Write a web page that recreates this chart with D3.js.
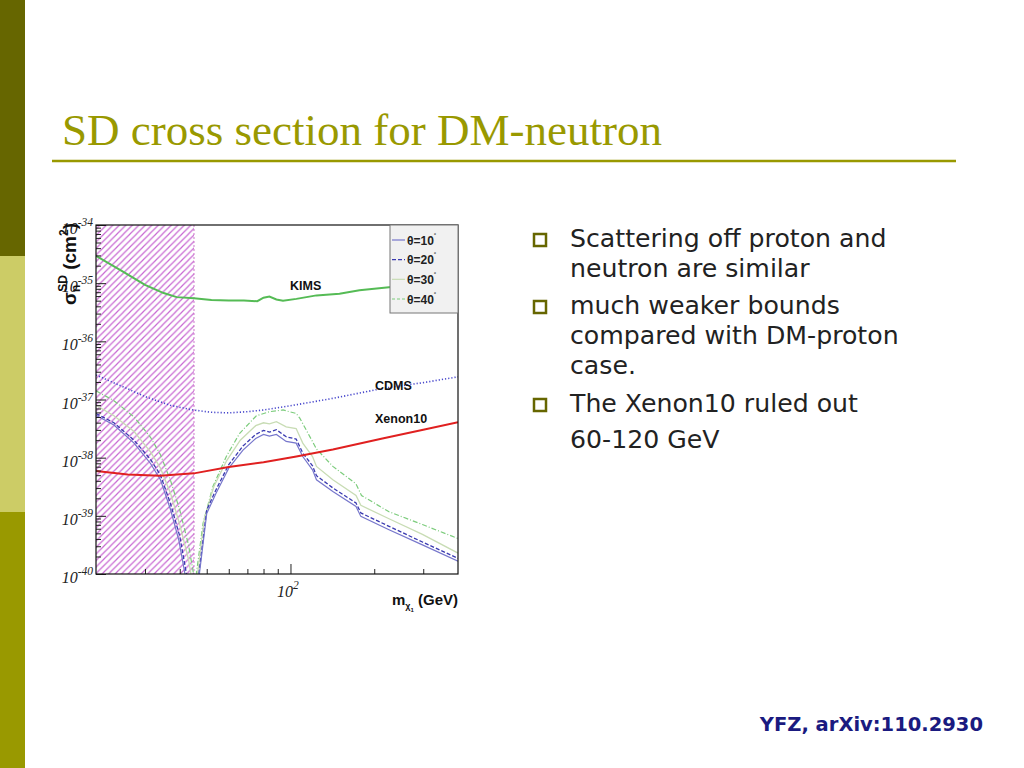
<!DOCTYPE html>
<html>
<head>
<meta charset="utf-8">
<script src="https://cdn.jsdelivr.net/npm/d3@7"></script>
<style>
  html, body { margin: 0; padding: 0; background: #fff; }
  svg { display: block; }
</style>
</head>
<body>
<svg id="slide" width="1024" height="768"></svg>
<script>
"use strict";

// points are [mass in GeV, log10 of sigma in cm^2]
const kims = [[20,-34.53],[25,-34.80],[30,-35.03],[35,-35.17],[39,-35.24],[45,-35.26],[52,-35.29],[60,-35.30],[68,-35.30],[76,-35.31],[80,-35.25],[84,-35.23],[89,-35.28],[94,-35.30],[105,-35.27],[124,-35.21],[150,-35.18],[177,-35.12],[226,-35.07],[300,-35.03],[400,-34.98]];
const cdms = [[20,-36.58],[25,-36.78],[30,-36.95],[37,-37.10],[44.6,-37.18],[52,-37.22],[60,-37.23],[70,-37.21],[80,-37.18],[105,-37.09],[142,-36.98],[214,-36.81],[300,-36.71],[400,-36.61]];
const xenon10 = [[20,-38.23],[26,-38.29],[34,-38.31],[45,-38.27],[60,-38.16],[80,-38.08],[105,-37.98],[142,-37.86],[214,-37.67],[300,-37.52],[400,-37.39]];

const theta10Low = [[20,-37.27],[23.2,-37.44],[27.4,-37.75],[31.4,-38.10],[34.1,-38.38],[37.1,-38.90],[39.7,-39.42],[42.5,-40.2]];
const theta20Low = [[20,-37.24],[23.2,-37.40],[27.4,-37.70],[31.4,-38.03],[34.1,-38.30],[37.1,-38.80],[40,-39.35],[43,-40.2]];
const theta30Low = [[20,-37.10],[23.2,-37.28],[27.4,-37.55],[31.4,-37.90],[34.1,-38.18],[37.1,-38.62],[40,-39.15],[43,-39.75],[44.6,-40.2]];
const theta40Low = [[20,-36.85],[23.2,-37.02],[27.4,-37.30],[31.4,-37.65],[34.1,-37.95],[37.1,-38.40],[40,-38.90],[43,-39.50],[45.6,-40.2]];

const theta10High = [[46.5,-40.2],[50,-38.96],[54,-38.61],[60,-38.18],[67.5,-37.87],[75,-37.67],[80,-37.60],[84,-37.63],[89,-37.60],[96.5,-37.72],[104.8,-37.75],[110.7,-37.98],[120,-38.21],[124,-38.38],[142,-38.58],[172,-38.84],[179,-39.01],[226,-39.24],[298,-39.50],[400,-39.78]];
const theta20High = [[46.3,-40.2],[50,-38.90],[54,-38.55],[60,-38.12],[67.5,-37.80],[75,-37.60],[80,-37.53],[84,-37.56],[89,-37.52],[96.5,-37.64],[104.8,-37.68],[110.7,-37.92],[120,-38.14],[124,-38.31],[142,-38.52],[172,-38.78],[179,-38.95],[226,-39.18],[298,-39.45],[400,-39.73]];
const theta30High = [[45.8,-40.2],[49,-39.05],[53,-38.50],[59,-38.05],[66,-37.70],[75,-37.45],[80,-37.40],[84,-37.42],[89,-37.38],[96.5,-37.47],[104.8,-37.50],[110.7,-37.75],[120,-37.98],[124,-38.15],[142,-38.38],[172,-38.65],[179,-38.82],[226,-39.05],[298,-39.32],[400,-39.64]];
const theta40High = [[45.3,-40.2],[48.5,-39.13],[52.6,-38.50],[58.8,-37.98],[65.7,-37.58],[75.4,-37.28],[84,-37.21],[94,-37.18],[104.8,-37.24],[108,-37.32],[124,-37.85],[142,-38.15],[172,-38.45],[180,-38.65],[226,-38.93],[298,-39.15],[400,-39.39]];

const excludedMass = 45;
const yDecades = [-40, -39, -38, -37, -36, -35, -34];
const xMinorTicks = [30, 40, 50, 60, 70, 80, 90, 200, 300];
const legendLabels = ["10", "20", "30", "40"];

const bullets = [
  ["Scattering off proton and", "neutron are similar"],
  ["much weaker bounds", "compared with DM-proton", "case."],
  ["The Xenon10 ruled out", "60-120 GeV"]
];

const svg = d3.select("#slide");

// side bar
svg.append("rect").attr("x", 0).attr("y", 0).attr("width", 25).attr("height", 256).attr("fill", "#666600");
svg.append("rect").attr("x", 0).attr("y", 256).attr("width", 25).attr("height", 256).attr("fill", "#cccc66");
svg.append("rect").attr("x", 0).attr("y", 512).attr("width", 25).attr("height", 256).attr("fill", "#999900");

svg.append("text")
  .attr("x", 62).attr("y", 145)
  .attr("font-family", "Liberation Serif, serif")
  .attr("font-size", 45)
  .attr("fill", "#999900")
  .text("SD cross section for DM-neutron");

svg.append("line")
  .attr("x1", 52).attr("x2", 956).attr("y1", 161).attr("y2", 161)
  .attr("stroke", "#999900").attr("stroke-width", 2.5);

// bullets
let lineY = 247;
const bulletGaps = [37, 38, 0];
bullets.forEach(function(item, i) {
  svg.append("rect")
    .attr("x", 534).attr("y", lineY - 13).attr("width", 12).attr("height", 12)
    .attr("fill", "#fff").attr("stroke", "#666600").attr("stroke-width", 2.5);
  item.forEach(function(t, j) {
    svg.append("text")
      .attr("x", 570).attr("y", lineY)
      .attr("font-family", "DejaVu Sans, sans-serif")
      .attr("font-size", 25.2)
      .attr("fill", "#222")
      .text(t);
    lineY += (i === 2 && j === 0) ? 36 : 30;
  });
  lineY += bulletGaps[i] - 30;
});

svg.append("text")
  .attr("x", 983).attr("y", 731)
  .attr("text-anchor", "end")
  .attr("font-family", "DejaVu Sans, sans-serif")
  .attr("font-weight", "bold")
  .attr("font-size", 19.5)
  .attr("fill", "#1a1a80")
  .text("YFZ, arXiv:110.2930");

// chart
const plotL = 96, plotR = 458, plotT = 225, plotB = 574;

const x = d3.scaleLog().domain([20, 400]).range([plotL, plotR]);
const y = d3.scaleLog().domain([1e-40, 1e-34]).range([plotB, plotT]);

const defs = svg.append("defs");
defs.append("clipPath").attr("id", "plotClip")
  .append("rect").attr("x", plotL).attr("y", plotT).attr("width", plotR - plotL).attr("height", plotB - plotT);

const hatch = defs.append("pattern")
  .attr("id", "hatch")
  .attr("patternUnits", "userSpaceOnUse")
  .attr("width", 6.5).attr("height", 6.5);
hatch.append("path")
  .attr("d", "M0,6.5 L6.5,0 M-1,1 L1,-1 M5.5,7.5 L7.5,5.5")
  .attr("stroke", "#c868d2").attr("stroke-width", 1.2);

const plot = svg.append("g").attr("clip-path", "url(#plotClip)");

plot.append("rect")
  .attr("x", x(20)).attr("y", plotT)
  .attr("width", x(excludedMass) - x(20)).attr("height", plotB - plotT)
  .attr("fill", "url(#hatch)");
plot.append("line")
  .attr("x1", x(excludedMass)).attr("x2", x(excludedMass)).attr("y1", plotT).attr("y2", plotB)
  .attr("stroke", "#cc77cc").attr("stroke-width", 1).attr("stroke-dasharray", "2,2");

const line = d3.line()
  .x(function(d) { return x(d[0]); })
  .y(function(d) { return y(Math.pow(10, d[1])); });

function drawCurve(data, color, width, dash) {
  plot.append("path")
    .datum(data)
    .attr("d", line)
    .attr("fill", "none")
    .attr("stroke", color)
    .attr("stroke-width", width)
    .attr("stroke-dasharray", dash || null);
}

const thetaStyles = [
  ["#7777cc", 1.2, null],
  ["#3a3ab0", 1.3, "4,2"],
  ["#c8dcb4", 1.3, null],
  ["#7ccc7c", 1.2, "5,2,1,2"]
];
const thetaLow = [theta10Low, theta20Low, theta30Low, theta40Low];
const thetaHigh = [theta10High, theta20High, theta30High, theta40High];

for (let i = 3; i >= 0; i--) {
  drawCurve(thetaLow[i], thetaStyles[i][0], thetaStyles[i][1], thetaStyles[i][2]);
  drawCurve(thetaHigh[i], thetaStyles[i][0], thetaStyles[i][1], thetaStyles[i][2]);
}

drawCurve(kims, "#55bb55", 2);
drawCurve(cdms, "#4848cc", 1.6, "1.2,2");
drawCurve(xenon10, "#e02020", 2);

// axes
const yMinor = [];
yDecades.forEach(function(e) {
  for (let k = 2; k <= 9; k++) {
    if (e < -34) yMinor.push(k * Math.pow(10, e));
  }
});

svg.append("g")
  .attr("transform", "translate(" + plotL + ",0)")
  .call(d3.axisLeft(y).tickValues(yMinor).tickSize(-5).tickFormat(""))
  .call(function(g) { g.select(".domain").remove(); });

svg.append("g")
  .attr("transform", "translate(" + plotL + ",0)")
  .call(d3.axisLeft(y).tickValues(yDecades.map(function(e) { return Math.pow(10, e); })).tickSize(-10).tickFormat(""))
  .call(function(g) { g.select(".domain").remove(); });

svg.append("g")
  .attr("transform", "translate(0," + plotB + ")")
  .call(d3.axisBottom(x).tickValues(xMinorTicks).tickSize(-5).tickFormat(""))
  .call(function(g) { g.select(".domain").remove(); });

svg.append("g")
  .attr("transform", "translate(0," + plotB + ")")
  .call(d3.axisBottom(x).tickValues([100]).tickSize(-10).tickFormat(""))
  .call(function(g) { g.select(".domain").remove(); });

svg.selectAll(".tick line").attr("stroke", "#222");

svg.append("rect")
  .attr("x", plotL).attr("y", plotT).attr("width", plotR - plotL).attr("height", plotB - plotT)
  .attr("fill", "none").attr("stroke", "#111").attr("stroke-width", 1.2);

// y tick labels
yDecades.forEach(function(e) {
  const t = svg.append("text")
    .attr("x", 93).attr("y", y(Math.pow(10, e)) + 9)
    .attr("text-anchor", "end")
    .attr("font-family", "Liberation Serif, serif")
    .attr("font-style", "italic")
    .attr("font-size", 16)
    .attr("fill", "#222");
  t.append("tspan").text("10");
  t.append("tspan").attr("dy", -8).attr("font-size", 11.5).text(String(e));
});

const xl = svg.append("text")
  .attr("x", 277).attr("y", 597)
  .attr("font-family", "Liberation Serif, serif")
  .attr("font-style", "italic")
  .attr("font-size", 16)
  .attr("fill", "#222");
xl.append("tspan").text("10");
xl.append("tspan").attr("dy", -8).attr("font-size", 11.5).text("2");

// axis titles
const yt = svg.append("text")
  .attr("transform", "translate(76," + (plotT - 2) + ") rotate(-90)")
  .attr("text-anchor", "end")
  .attr("font-family", "Liberation Sans, sans-serif")
  .attr("font-weight", "bold")
  .attr("font-size", 19)
  .attr("fill", "#111");
yt.append("tspan").text("σ");
yt.append("tspan").attr("dy", 4).attr("font-size", 12).text("n");
yt.append("tspan").attr("dx", -7).attr("dy", -13).attr("font-size", 12).text("SD");
yt.append("tspan").attr("dy", 9).text(" (cm");
yt.append("tspan").attr("dy", -8).attr("font-size", 12).text("2");
yt.append("tspan").attr("dy", 8).text(")");

const xt = svg.append("text")
  .attr("x", plotR).attr("y", 605)
  .attr("text-anchor", "end")
  .attr("font-family", "Liberation Sans, sans-serif")
  .attr("font-weight", "bold")
  .attr("font-size", 15)
  .attr("fill", "#111");
xt.append("tspan").text("m");
xt.append("tspan").attr("dy", 4).attr("font-size", 9).text("χ");
xt.append("tspan").attr("dy", 3).attr("font-size", 6).text("1");
xt.append("tspan").attr("dy", -7).text(" (GeV)");

// curve labels
const curveLabels = [["KIMS", 290, 290], ["CDMS", 375, 390], ["Xenon10", 375, 423]];
curveLabels.forEach(function(c) {
  svg.append("text")
    .attr("x", c[1]).attr("y", c[2])
    .attr("font-family", "Liberation Sans, sans-serif")
    .attr("font-weight", "bold")
    .attr("font-size", 12.5)
    .attr("fill", "#111")
    .text(c[0]);
});

// legend
const legend = svg.append("g");
legend.append("rect")
  .attr("x", 390).attr("y", plotT).attr("width", plotR - 390).attr("height", 88)
  .attr("fill", "#f1f1f1").attr("stroke", "#777").attr("stroke-width", 1);

const legendY = d3.scalePoint().domain(legendLabels).range([240, 299]);
legendLabels.forEach(function(lab, i) {
  const ly = legendY(lab);
  legend.append("line")
    .attr("x1", 392).attr("x2", 405).attr("y1", ly).attr("y2", ly)
    .attr("stroke", thetaStyles[i][0]).attr("stroke-width", 1.2)
    .attr("stroke-dasharray", i === 3 ? "3,2" : thetaStyles[i][2]);
  const t = legend.append("text")
    .attr("x", 407).attr("y", ly + 4.5)
    .attr("font-family", "Liberation Sans, sans-serif")
    .attr("font-weight", "bold")
    .attr("font-size", 12)
    .attr("fill", "#222");
  t.append("tspan").text("θ=" + lab);
  t.append("tspan").attr("dy", -8).attr("font-size", 6).text("°");
});
</script>
</body>
</html>
